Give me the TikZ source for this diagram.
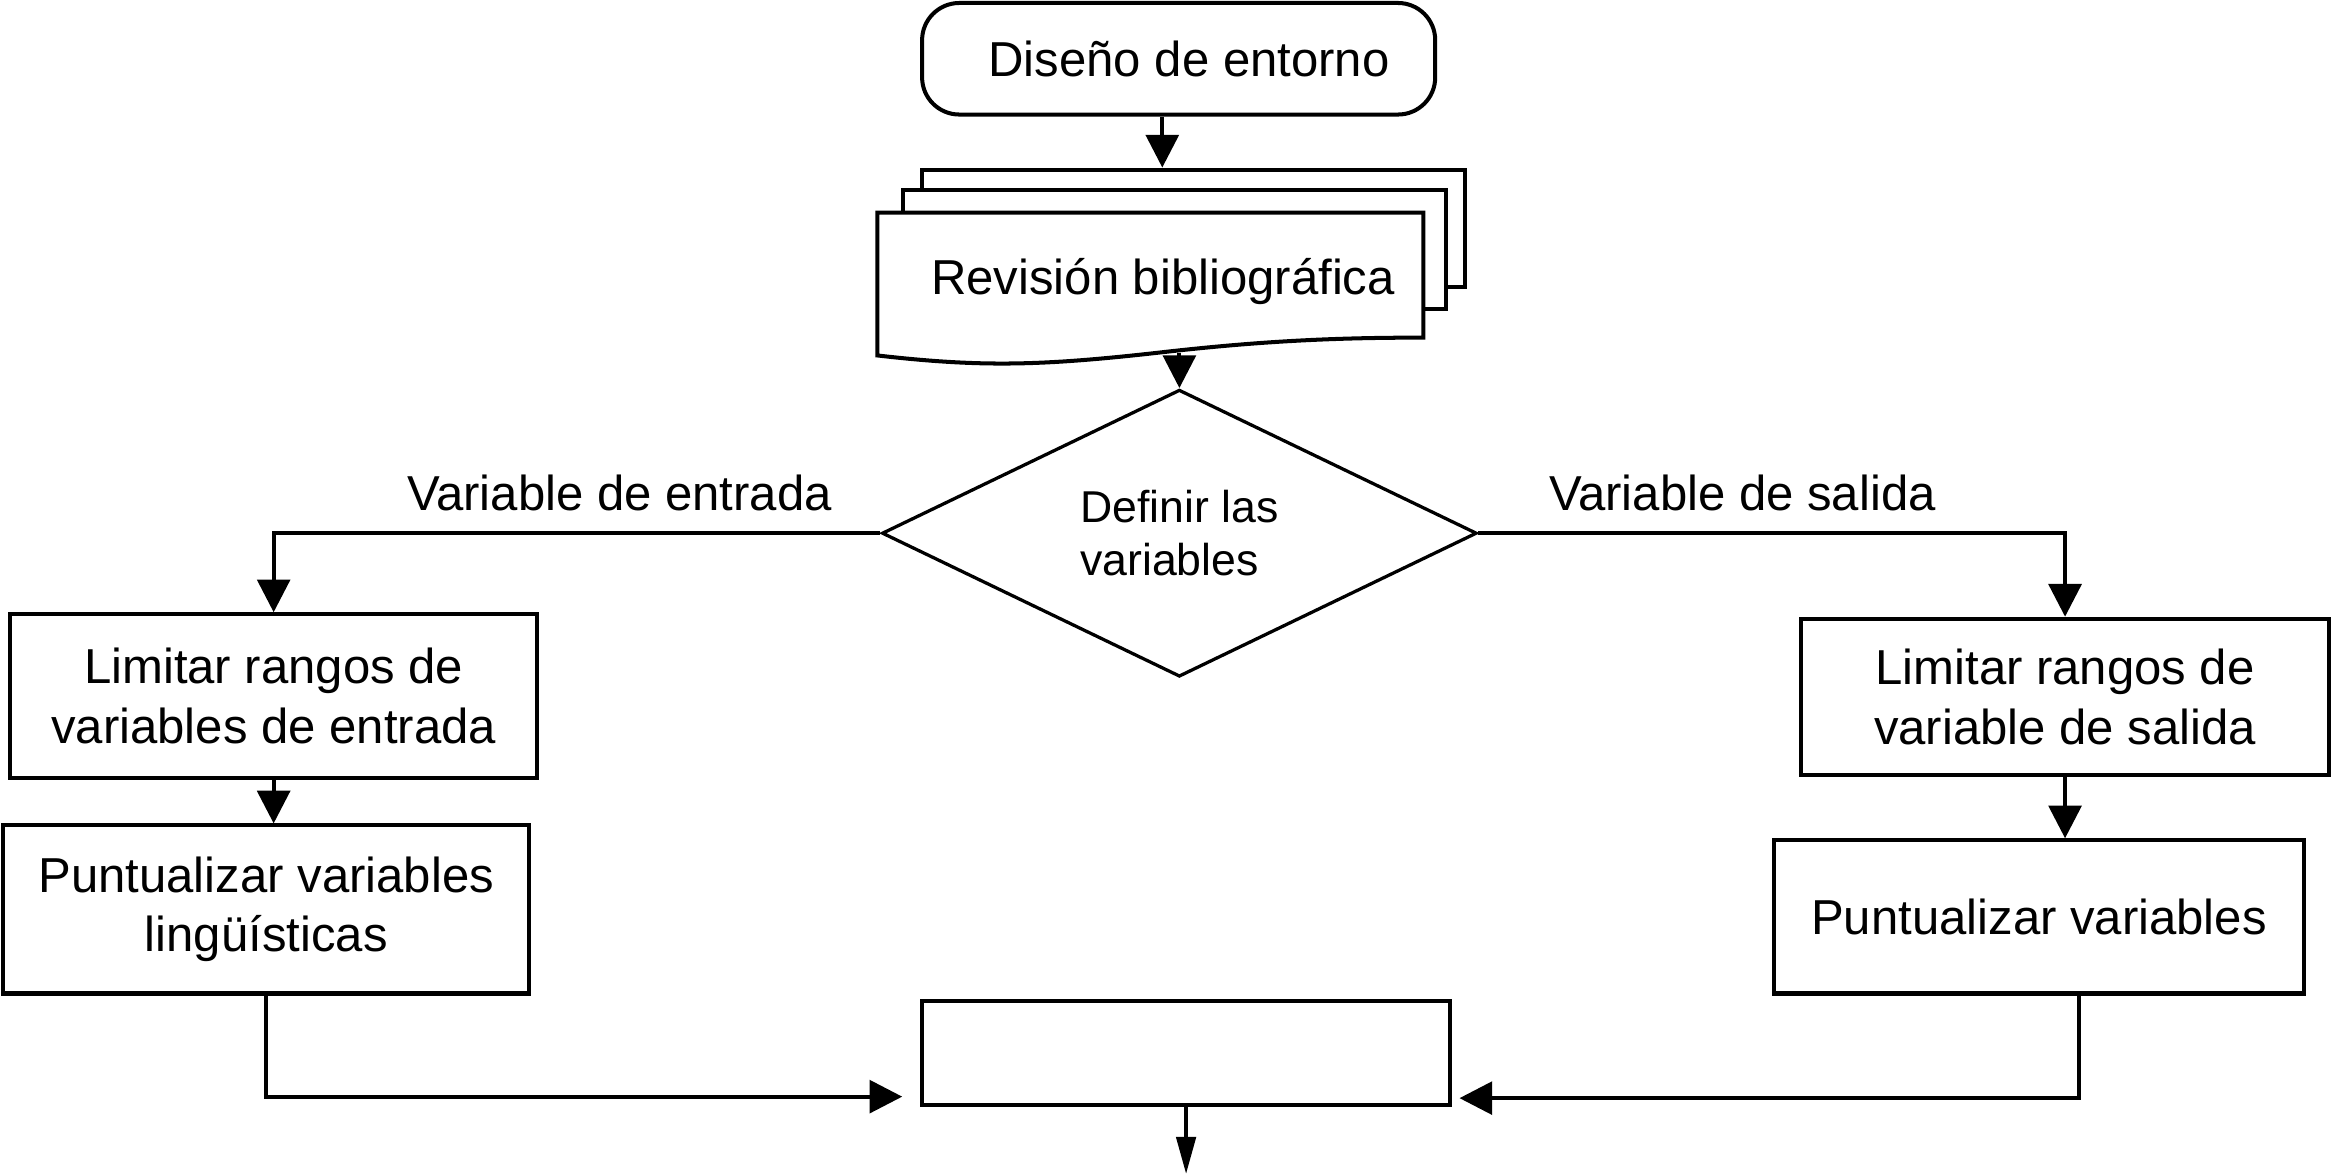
\documentclass[tikz,border=0pt]{standalone}
\usepackage{fontspec}
\setmainfont{Liberation Sans}
\usetikzlibrary{shapes.geometric,arrows.meta}

\begin{document}
\begin{tikzpicture}[x=0.5pt,y=-0.5pt,line width=1.35pt,
    every node/.style={font=\fontsize{16.5}{20}\selectfont},
    box/.style={draw,fill=white,rectangle,align=center,inner sep=0pt},
    arr/.style={-{Triangle[length=11pt,width=11pt]}}]
    \useasboundingbox (0,0) rectangle (1568,789);
    %% Objects
    \node[box,rounded corners=12.5pt,minimum width=172.5pt,minimum height=37.5pt] (dis) at (792.5,39.5) {\hspace*{7pt}Diseño de entorno};
    \node[box,minimum width=182.5pt,minimum height=39.5pt] (revb) at (802.5,153.5) {};
    \node[box,minimum width=182.5pt,minimum height=40pt] (revm) at (789.5,168) {};
    \draw[fill=white] (590,239) -- (590,143) -- (957,143) -- (957,227)
        .. controls (900,227) and (850,229) .. (780,237)
        .. controls (700,246) and (660,247) .. cycle;
    \node[inner sep=0pt,minimum height=46.5pt] (rev) at (782,189.5) {Revisión bibliográfica};
    \node[draw,diamond,aspect=2,line width=1.1pt,minimum width=200pt,minimum height=96.5pt,inner sep=0pt,align=left,font=\fontsize{15}{18}\selectfont] (def) at (793,358.5) {Definir las\\variables};
    \node[box,minimum width=177pt,minimum height=55pt] (lr1) at (184,468) {Limitar rangos de\\variables de entrada};
    \node[box,minimum width=177pt,minimum height=56.5pt] (lr2) at (179,611.5) {Puntualizar variables\\lingüísticas};
    \node[box,minimum width=177.5pt,minimum height=52.5pt] (rr1) at (1388.5,468.5) {Limitar rangos de\\variable de salida};
    \node[box,minimum width=178pt,minimum height=51.5pt] (rr2) at (1371,616.5) {Puntualizar variables};
    \node[box,minimum width=177.5pt,minimum height=35pt] (out) at (797.5,708) {};
    %% Arrows
    \coordinate (disd) at ([xshift=-5.5pt]dis.south);
    \draw[arr] (disd) -- (disd |- revb.north);
    \draw[arr] (def.north |- rev.south) -- (def.north);
    \draw[arr] (def.west) -- node[pos=0.43,above,yshift=3.5pt] {Variable de entrada} (def.west -| lr1.north) -- (lr1.north);
    \draw[arr] (def.east) -- node[pos=0.45,above,yshift=3.5pt] {Variable de salida} (def.east -| rr1.north) -- (rr1.north);
    \draw[arr] (lr1.south) -- (lr1.south |- lr2.north);
    \draw[arr] (rr1.south) -- (rr1.south |- rr2.north);
    \coordinate (inL) at ([xshift=-6pt,yshift=3.5pt]out.south west);
    \draw[arr] (lr2.south) -- (lr2.south |- inL) -- (inL);
    \coordinate (rr2d) at ([xshift=13.5pt]rr2.south);
    \coordinate (inR) at ([xshift=2.5pt,yshift=3pt]out.south east);
    \draw[arr] (rr2d) -- (rr2d |- inR) -- (inR);
    \draw[-{Triangle[length=12.5pt,width=6.5pt]}] (out.south) -- ++(0,45);
\end{tikzpicture}
\end{document}
